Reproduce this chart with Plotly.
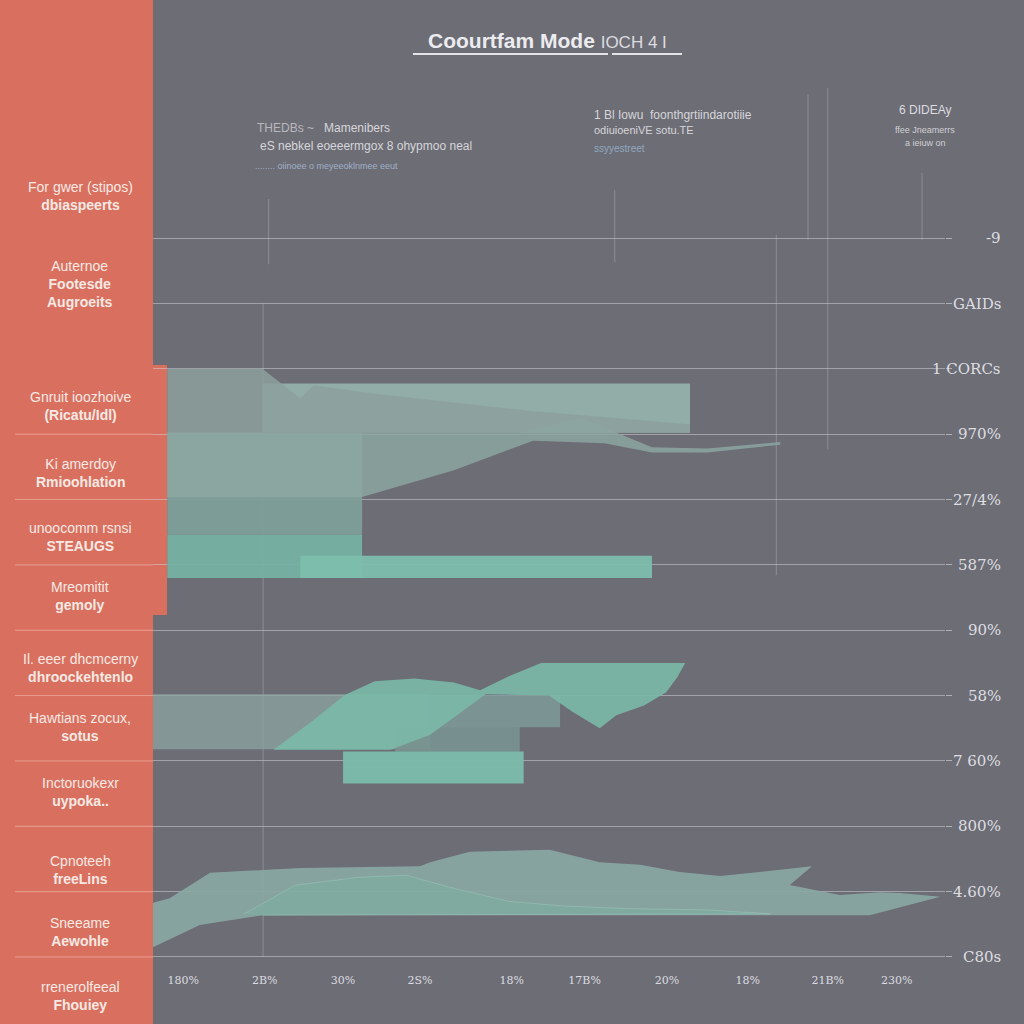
import plotly.graph_objects as go

W, H = 1024, 1024
BG = "#6d6d75"
RED = "#d9705f"

# ---------------- data ----------------
row_values = list(range(12))
row_labels = ["C80s", "4.60%", "800%", "7 60%", "58%", "90%",
              "587%", "27/4%", "970%", "1 CORCs", "GAIDs", "-9"]

x_tick_vals = [3.8, 14.1, 24.0, 33.7, 45.3, 54.5, 64.9, 75.1, 85.2, 93.9]
x_tick_text = ["180%", "2B%", "30%", "2S%", "18%", "17B%", "20%", "18%", "21B%", "230%"]

categories = [
    ("For gwer (stipos)", "dbiaspeerts"),
    ("Auternoe", "Footesde<br>Augroeits"),
    ("Gnruit ioozhoive", "(Ricatu/Idl)"),
    ("Ki amerdoy", "Rmioohlation"),
    ("unoocomm rsnsi", "STEAUGS"),
    ("Mreomitit", "gemoly"),
    ("Il. eeer dhcmcerny", "dhroockehtenlo"),
    ("Hawtians zocux,", "sotus"),
    ("Inctoruokexr", "uypoka.."),
    ("Cpnoteeh", "freeLins"),
    ("Sneeame", "Aewohle"),
    ("rrenerolfeeal", "Fhouiey"),
]

# horizontal bars: start, end, row centre
bar_start = [13.8, 1.8, 1.8, 1.8, 18.6, 0.0, 34.6, 30.6, 24.0]
bar_end   = [67.8, 26.4, 26.4, 26.4, 63.0, 35.0, 51.4, 46.3, 46.8]
bar_row   = [8.40, 7.53, 6.75, 6.13, 5.97, 3.60, 3.76, 3.33, 2.90]

# wavy areas (x, y in axis units)
area1_x = [1.8, 13.8, 18.6, 20.3, 28, 38, 48, 58, 67.8, 67.8, 1.8]
area1_y = [9.0, 9.0, 8.55, 8.75, 8.62, 8.48, 8.35, 8.25, 8.15, 8.02, 8.02]

area2_x = [1.8, 46, 49, 54, 58, 63, 70, 79.2, 79.2, 70, 63, 57, 48, 38, 26.4, 1.8]
area2_y = [8.02, 8.02, 8.1, 8.25, 8.05, 7.8, 7.78, 7.88, 7.84, 7.72, 7.72, 7.86, 7.9, 7.45, 7.04, 7.04]

area3_x = [15.2, 20, 24.2, 28, 33, 38, 41.3, 45, 49, 67.2, 66.2, 64.8, 62, 58.5, 56.4,
           53, 50, 42, 35, 30]
area3_y = [3.17, 3.6, 4.01, 4.22, 4.26, 4.2, 4.08, 4.3, 4.5, 4.5, 4.28, 4.05, 3.85, 3.7, 3.5,
           3.75, 4.0, 4.02, 3.4, 3.17]

area4_x = [0, 2.1, 7.2, 18.6, 33.7, 35.0, 40.0, 50.1, 56.4, 61.5, 66.5, 71.6, 76.6, 83.2,
           80.4, 86.7, 91.8, 94.3, 99.4, 90.5, 13.9, 5.9, 0]
area4_y = [0.83, 0.90, 1.29, 1.36, 1.39, 1.45, 1.61, 1.64, 1.45, 1.41, 1.30, 1.24, 1.30, 1.39,
           1.10, 0.95, 0.99, 0.98, 0.92, 0.64, 0.64, 0.49, 0.15]

area5_x = [11.5, 18, 26, 32, 38, 45, 52, 60, 70, 78, 13.9]
area5_y = [0.66, 1.1, 1.22, 1.25, 1.05, 0.85, 0.78, 0.74, 0.72, 0.66, 0.64]

# faint vertical guide lines: x, y from, y to
guides = [(13.9, 0.0, 10.0), (14.6, 10.6, 11.6), (58.3, 10.63, 11.74),
          (78.7, 5.84, 11.05), (82.7, 10.97, 13.2), (85.2, 7.77, 13.3), (97.1, 10.97, 12.0)]

# --------------- styles ----------------
bar_thickness = [0.75, 1.0, 0.58, 0.66, 0.34, 0.84, 0.49, 0.38, 0.49]
bar_colors = ["rgba(150,178,172,0.92)", "rgba(138,166,160,0.95)", "rgba(126,158,153,0.95)",
              "rgba(118,178,163,0.95)", "rgba(125,190,173,0.95)", "rgba(140,165,162,0.75)",
              "rgba(124,150,148,0.95)", "rgba(120,146,144,0.95)", "rgba(125,187,170,0.97)"]

fig = go.Figure()

fig.add_trace(go.Scatter(x=area1_x, y=area1_y, fill="toself", mode="lines",
                         line=dict(width=0), fillcolor="rgba(140,160,158,0.85)", hoverinfo="skip"))
fig.add_trace(go.Scatter(x=area2_x, y=area2_y, fill="toself", mode="lines",
                         line=dict(width=0), fillcolor="rgba(140,166,161,0.85)", hoverinfo="skip"))
fig.add_trace(go.Scatter(x=area3_x, y=area3_y, fill="toself", mode="lines",
                         line=dict(width=0), fillcolor="rgba(122,185,168,0.9)", hoverinfo="skip"))
fig.add_trace(go.Scatter(x=area4_x, y=area4_y, fill="toself", mode="lines",
                         line=dict(width=0), fillcolor="rgba(138,168,163,0.92)", hoverinfo="skip"))
fig.add_trace(go.Scatter(x=area5_x, y=area5_y, fill="toself", mode="lines",
                         line=dict(width=1, color="rgba(160,200,190,0.5)"),
                         fillcolor="rgba(122,176,160,0.55)", hoverinfo="skip"))

fig.add_trace(go.Bar(
    orientation="h", y=bar_row, base=bar_start,
    x=[e - s for s, e in zip(bar_start, bar_end)],
    width=bar_thickness, marker=dict(color=bar_colors, line=dict(width=0)),
    hoverinfo="skip"))

shapes = []
shapes.append(dict(type="rect", xref="paper", yref="paper", x0=0, x1=153 / W, y0=0, y1=1,
                   fillcolor=RED, line=dict(width=0), layer="below"))
shapes.append(dict(type="rect", xref="paper", yref="paper", x0=150 / W, x1=167 / W,
                   y0=1 - 615 / H, y1=1 - 365 / H, fillcolor=RED, line=dict(width=0), layer="below"))
for v in row_values[:9]:
    shapes.append(dict(type="line", xref="paper", yref="y", x0=15 / W, x1=153 / W, y0=v, y1=v,
                       line=dict(color="rgba(255,215,205,0.45)", width=1)))
for gx, g0, g1 in guides:
    shapes.append(dict(type="line", xref="x", yref="y", x0=gx, x1=gx, y0=g0, y1=g1,
                       line=dict(color="rgba(200,200,206,0.35)", width=1), layer="below"))
shapes.append(dict(type="line", xref="paper", yref="paper", x0=413 / W, x1=608 / W,
                   y0=1 - 54 / H, y1=1 - 54 / H, line=dict(color="#e4e4e8", width=2)))
shapes.append(dict(type="line", xref="paper", yref="paper", x0=612 / W, x1=682 / W,
                   y0=1 - 54 / H, y1=1 - 54 / H, line=dict(color="#e4e4e8", width=2)))

ann = []
FONT = "Liberation Sans, Arial, sans-serif"
ann.append(dict(xref="paper", yref="paper", x=547 / W, y=1 - 40 / H, showarrow=False,
                xanchor="center", yanchor="middle",
                text="<b>Coourtfam Mode</b> <span style='font-size:17px;color:#dcdce0'>IOCH 4 I</span>",
                font=dict(family=FONT, size=21, color="#ececf0")))
for v, lab in zip(row_values, row_labels):
    ann.append(dict(xref="paper", yref="y", x=1003 / W, y=v, xanchor="right", yanchor="middle",
                    showarrow=False, text=lab,
                    font=dict(family="DejaVu Serif, serif", size=15, color="#dedee2")))
left_pos = [196, 284, 406, 473, 537, 596, 668, 727, 792, 870, 932, 996]
for (a, b), py in zip(categories, left_pos):
    ann.append(dict(xref="paper", yref="paper", x=80 / W, y=1 - py / H, showarrow=False,
                    xanchor="center", yanchor="middle",
                    text=f"{a}<br><b>{b}</b>", align="center",
                    font=dict(family=FONT, size=14, color="#f6e9e4")))
notes = [
    (255, 128, "<span style='color:#b8b8be'>THEDBs ~</span>   Mamenibers", 12, "#d6d6da", "left"),
    (258, 146, "eS nebkel eoeeermgox 8 ohypmoo neal", 12, "#d6d6da", "left"),
    (253, 166, "........ oiinoee o meyeeoklnmee eeut", 9, "#9fb0c8", "left"),
    (592, 115, "1 Bl Iowu  foonthgrtiindarotiiie", 12, "#d6d6da", "left"),
    (592, 130, "odiuioeniVE sotu.TE", 11, "#d6d6da", "left"),
    (592, 148, "ssyyestreet", 10, "#8fa8c0", "left"),
    (925, 110, "6 DIDEAy", 12, "#dcdce0", "center"),
    (925, 130, "ffee Jneamerrs", 9, "#d0d0d4", "center"),
    (925, 143, "a ieiuw on", 9, "#d0d0d4", "center"),
]
for px, py, t, sz, col, anc in notes:
    ann.append(dict(xref="paper", yref="paper", x=px / W, y=1 - py / H, showarrow=False,
                    xanchor=anc, yanchor="middle", text=t,
                    font=dict(family=FONT, size=sz, color=col)))

fig.update_layout(
    width=W, height=H, margin=dict(l=0, r=0, t=0, b=0),
    paper_bgcolor=BG, plot_bgcolor=BG, showlegend=False, barmode="overlay",
    shapes=shapes, annotations=ann,
    xaxis=dict(domain=[153 / W, 945 / W], range=[0, 100], showgrid=False, zeroline=False,
               tickvals=x_tick_vals, ticktext=x_tick_text, ticks="", ticklabelstandoff=12,
               tickfont=dict(family="DejaVu Serif, serif", size=11, color="#dcdce0"),
               fixedrange=True),
    yaxis=dict(domain=[1 - 960 / H, 1 - 80 / H], range=[-0.046, 13.42], tickvals=row_values,
               showticklabels=False, showgrid=True, gridcolor="rgba(205,205,212,0.55)",
               gridwidth=1, zeroline=False, side="right", ticks="outside", ticklen=6,
               tickcolor="rgba(220,220,225,0.6)", fixedrange=True),
)

fig.write_html("out.html", config={"displayModeBar": False},
               post_script="document.body.style.margin='0';document.body.style.overflow='hidden';")
